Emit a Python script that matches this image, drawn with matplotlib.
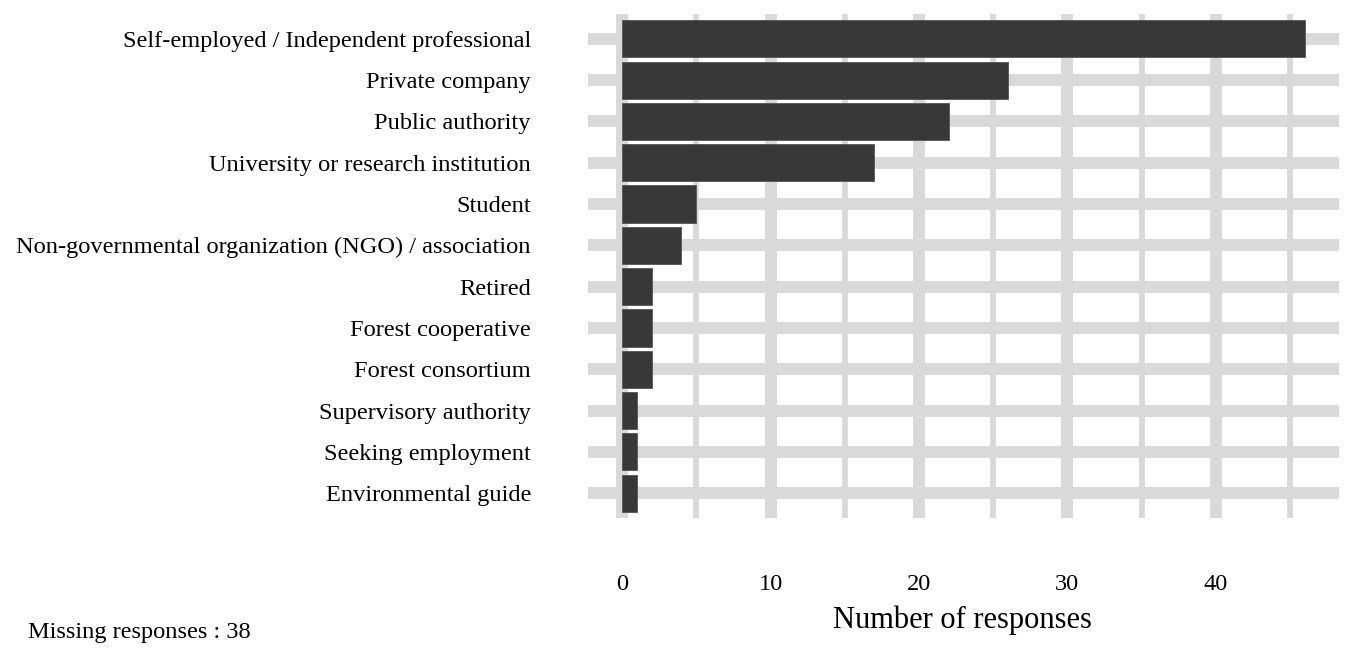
import matplotlib
matplotlib.use("Agg")
import matplotlib.pyplot as plt
import numpy as np

plt.rcParams["font.family"] = ["Liberation Serif", "DejaVu Serif"]

categories = [
    "Self-employed / Independent professional",
    "Private company",
    "Public authority",
    "University or research institution",
    "Student",
    "Non-governmental organization (NGO) / association",
    "Retired",
    "Forest cooperative",
    "Forest consortium",
    "Supervisory authority",
    "Seeking employment",
    "Environmental guide",
]
counts = [46, 26, 22, 17, 5, 4, 2, 2, 2, 1, 1, 1]
major_ticks = [0, 10, 20, 30, 40]
minor_ticks = [5, 15, 25, 35, 45]
missing = 38

fig = plt.figure(figsize=(13.55, 6.58), dpi=100)
ax = fig.add_axes([0.4339, 0.2128, 0.5543, 0.7659])

grid_col = "#d9d9d9"
ypos = np.arange(len(categories))

# grid drawn by hand so widths match the ggplot look
for y in ypos:
    ax.axhline(y, color=grid_col, lw=8.6, zorder=0)
for x in major_ticks:
    ax.axvline(x, color=grid_col, lw=8.6, zorder=0)
for x in minor_ticks:
    ax.axvline(x, color=grid_col, lw=4.2, zorder=0)

ax.barh(ypos, counts, height=0.9, color="#383838", edgecolor="#555555",
        linewidth=0.6, zorder=2)

ax.set_xlim(-2.3, 48.3)
ax.set_ylim(len(categories) - 0.4, -0.6)
ax.set_yticks(ypos)
ax.set_yticklabels(categories, fontsize=17.6)
ax.set_xticks(major_ticks)
ax.set_xticklabels([str(t) for t in major_ticks], fontsize=17.6)
ax.tick_params(axis="y", length=0, pad=41)
ax.tick_params(axis="x", length=0, pad=40)
for s in ax.spines.values():
    s.set_visible(False)

fig.text(0.7103, 0.0578, "Number of responses", ha="center", va="center", fontsize=22)
fig.text(0.0207, 0.0395, "Missing responses : %d" % missing, ha="left", va="center", fontsize=17.6)

fig.savefig("out.png", dpi=100)
